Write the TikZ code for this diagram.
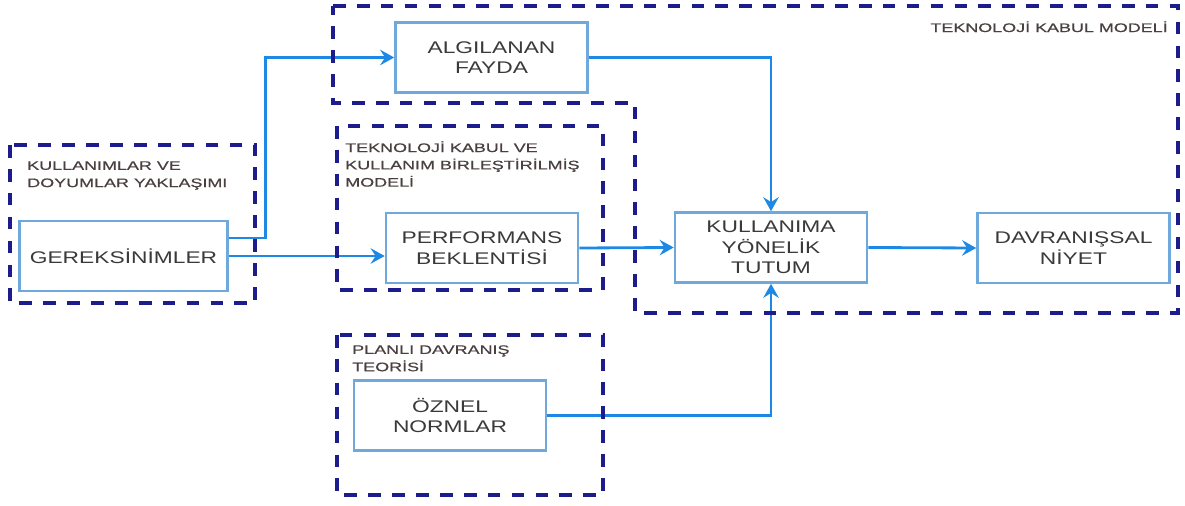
\documentclass[tikz,border=0pt]{standalone}
\usepackage{fontspec}
\setmainfont{Liberation Sans}
\newfontfamily\boxfont[FakeStretch=1.35]{Liberation Sans}
\newfontfamily\grpfont[FakeStretch=1.45, FakeBold=0.6]{Liberation Sans}
\usetikzlibrary{arrows.meta, positioning, calc}
\definecolor{frame}{HTML}{1C1C8C}
\definecolor{boxline}{HTML}{6FA8DC}
\definecolor{flow}{HTML}{1E88E5}
\definecolor{boxtext}{HTML}{3A3A3A}
\definecolor{grptext}{HTML}{4A4040}

\begin{document}
\begin{tikzpicture}[x=0.025cm, y=-0.025cm,
  box/.style={draw=boxline, line width=1.8pt, fill=white,
    minimum width=4.8cm, minimum height=1.75cm, align=center,
    text=boxtext, font=\boxfont\fontsize{12pt}{14.5pt}\selectfont},
  grplabel/.style={inner sep=0pt, align=left, text=grptext,
    font=\grpfont\fontsize{8.8pt}{12.3pt}\selectfont},
  grp/.style={draw=frame, line width=2.7pt, dash pattern=on 9pt off 8pt},
  arr/.style={draw=flow, line width=2pt,
    -{Stealth[length=10pt, width=11pt, inset=3.5pt]}}]
  \useasboundingbox (0,0) rectangle (1185,506);
  % Boxes
  \node[box] (fayda) at (491.5,57.5) {ALGILANAN\\FAYDA};
  \node[box, minimum width=5.2cm] (gerek) at (123.5,256) {GEREKSİNİMLER};
  \node[box] (perf) at (482,248) {PERFORMANS\\BEKLENTİSİ};
  \node[box] (tutum) at (771,247.5) {KULLANIMA\\YÖNELİK\\TUTUM};
  \node[box] (niyet) at (1073.5,248) {DAVRANIŞSAL\\NİYET};
  \node[box] (oznel) at (450,415.5) {ÖZNEL\\NORMLAR};
  % Arrows
  \draw[arr] ([yshift=0.45cm]gerek.east) -- ++(37,0) |- (fayda.west);
  \draw[arr] (gerek.east) -- (gerek.east -| perf.west);
  \draw[arr] (perf.east) -- (tutum.west);
  \draw[arr] (fayda.east) -| (tutum.north);
  \draw[arr] (oznel.east) -| (tutum.south);
  \draw[arr] (tutum.east) -- (niyet.west);
  % Model frames
  \draw[grp] (333,6) -- (1178,6) -- (1178,313) -- (635,313)
    -- (635,103) -- (333,103) -- cycle;
  \draw[grp] (10,145) rectangle (255,303);
  \draw[grp] (337,126) rectangle (603,290);
  \draw[grp] (337,335) rectangle (603,495);
  % Frame labels
  \node[grplabel, anchor=north east] (tamlbl) at (1168,21)
    {TEKNOLOJİ KABUL MODELİ};
  \node[grplabel, anchor=north west] (udslbl) at (27,161)
    {KULLANIMLAR VE\\DOYUMLAR YAKLAŞIMI};
  \node[grplabel, anchor=north west] (utautlbl) at (345,141)
    {TEKNOLOJİ KABUL VE\\KULLANIM BİRLEŞTİRİLMİŞ\\MODELİ};
  \node[grplabel, anchor=north west] (tpblbl) at (352,345)
    {PLANLI DAVRANIŞ\\TEORİSİ};
\end{tikzpicture}
\end{document}
